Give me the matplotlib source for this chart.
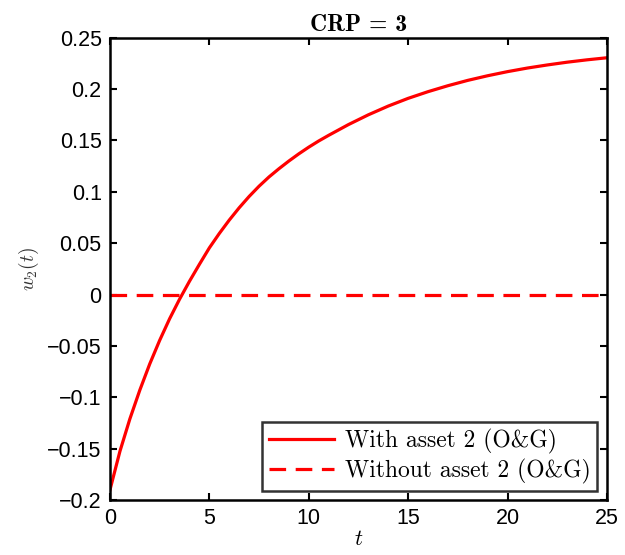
import numpy as np
import matplotlib
matplotlib.use("Agg")
import matplotlib.pyplot as plt

# values
t = [0, 0.5, 1, 1.5, 2, 2.5, 3, 3.5, 4, 4.5, 5, 5.5, 6, 6.5, 7, 7.5, 8, 8.5,
     9, 9.5, 10, 10.5, 11, 12, 13, 14, 15, 16, 17, 18, 19, 20, 21, 22, 23,
     24, 25]
w2_with = [-0.190, -0.1525, -0.121, -0.093, -0.0675, -0.0445, -0.0235,
           -0.0045, 0.013, 0.0295, 0.0455, 0.0595, 0.0725, 0.0845, 0.0955,
           0.1055, 0.1145, 0.1225, 0.1300, 0.137, 0.1435, 0.1495, 0.155,
           0.1655, 0.1750, 0.1835, 0.1910, 0.1975, 0.2033, 0.2085, 0.2130,
           0.2170, 0.2205, 0.2235, 0.2262, 0.2285, 0.2305]
t_without = [0, 25]
w2_without = [0.0, 0.0]

labels = ["With asset 2 (O&G)", "Without asset 2 (O&G)"]
xticks = [0, 5, 10, 15, 20, 25]
yticks = [-0.2, -0.15, -0.1, -0.05, 0, 0.05, 0.1, 0.15, 0.2, 0.25]
yticklabels = ["\u22120.2", "\u22120.15", "\u22120.1", "\u22120.05", "0",
               "0.05", "0.1", "0.15", "0.2", "0.25"]

plt.rcParams["mathtext.fontset"] = "cm"

fig = plt.figure(figsize=(6.25, 5.55), dpi=100)
ax = fig.add_axes([0.176, 0.099, 0.795, 0.833])

ax.plot(t, w2_with, color="red", lw=2.3, label=labels[0])
ax.plot(t_without, w2_without, color="red", lw=2.3, dashes=(5.2, 3.0),
        label=labels[1])

ax.set_xlim(0, 25)
ax.set_ylim(-0.2, 0.25)
ax.set_xticks(xticks)
ax.set_yticks(yticks)
ax.set_xticklabels([str(x) for x in xticks], fontfamily="Liberation Sans",
                   fontsize=15.5)
ax.set_yticklabels(yticklabels, fontfamily="Liberation Sans", fontsize=15.5)
ax.tick_params(direction="in", top=True, right=True, length=5, width=1.5,
               colors="black")
ax.tick_params(axis="x", pad=6)
ax.tick_params(axis="y", pad=6)
for sp in ax.spines.values():
    sp.set_linewidth(1.8)

ax.set_title("CRP = 3", fontname="cmb10", fontsize=17, pad=5)
ax.set_xlabel("$t$", fontsize=16, labelpad=0)
ax.set_ylabel("$w_2(t)$", fontsize=14, labelpad=4, color="#333333")

leg = ax.legend(loc="lower right", prop={"family": "cmr10", "size": 17},
                frameon=True, fancybox=False, edgecolor="black",
                handlelength=2.75, handletextpad=0.45, borderpad=0.3,
                labelspacing=0.2, borderaxespad=0.4)
leg.get_frame().set_linewidth(1.8)

fig.savefig("out.png", dpi=100)
